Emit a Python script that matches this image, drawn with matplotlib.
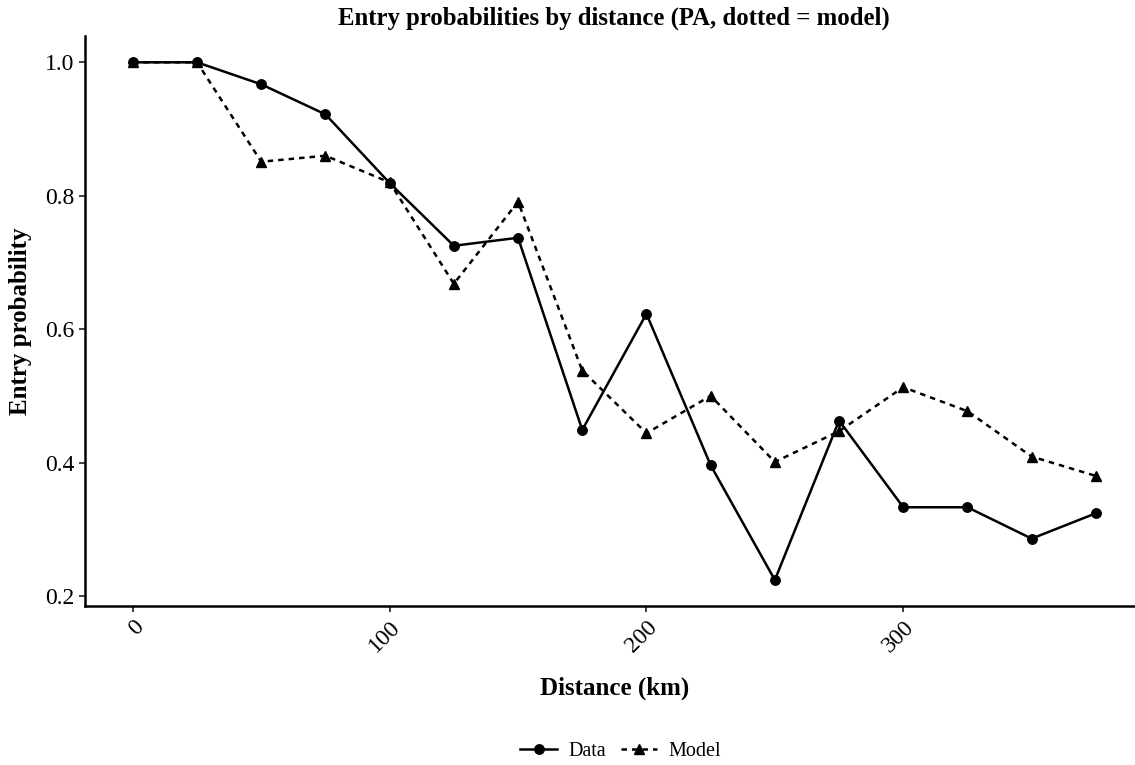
import matplotlib
matplotlib.use("Agg")
import matplotlib.pyplot as plt
from matplotlib.lines import Line2D

distance = [0, 25, 50, 75, 100, 125, 150, 175, 200, 225, 250, 275, 300, 325, 350, 375]
data_prob = [1.0, 1.0, 0.967, 0.922, 0.819, 0.725, 0.737, 0.449, 0.623, 0.396,
             0.224, 0.463, 0.333, 0.333, 0.286, 0.324]
model_prob = [1.0, 1.0, 0.851, 0.860, 0.820, 0.668, 0.791, 0.538, 0.444, 0.500,
              0.401, 0.447, 0.513, 0.477, 0.409, 0.380]
x_ticks = [0, 100, 200, 300]
y_ticks = [0.2, 0.4, 0.6, 0.8, 1.0]

plt.rcParams['font.family'] = ['Liberation Serif', 'DejaVu Serif']

W, H = 1135, 765
fig = plt.figure(figsize=(W / 100, H / 100), dpi=100)
left, right, bottom, top = 84.7, 1144, 606, 36.3
ax = fig.add_axes([left / W, 1 - bottom / H, (right - left) / W, (bottom - top) / H])

ax.plot(distance, model_prob, color='black', lw=1.8, linestyle=(0, (2.2, 2.0)),
        marker='^', markersize=7.5, label='Model')
ax.plot(distance, data_prob, color='black', lw=1.8, linestyle='-',
        marker='o', markersize=6.8, label='Data')

ax.set_xlim(-18.75, 393.75)
ax.set_ylim(0.185, 1.039)
ax.set_xticks(x_ticks)
ax.set_yticks(y_ticks)
ax.set_xticklabels([str(v) for v in x_ticks], rotation=45, ha='right', va='top',
                   rotation_mode='anchor', fontsize=17)
ax.set_yticklabels([f"{v:.1f}" for v in y_ticks], fontsize=17)
ax.tick_params(axis='both', length=4.5, width=1.3, color='#333333', pad=3)

for s in ['top', 'right']:
    ax.spines[s].set_visible(False)
for s in ['left', 'bottom']:
    ax.spines[s].set_linewidth(1.8)

cx = (left + right) / 2 / W
fig.text(cx, 1 - 688 / H, 'Distance (km)', ha='center', va='center',
         fontsize=18, fontweight='bold')
fig.text(20 / W, 1 - 321 / H, 'Entry probability', ha='center', va='center',
         rotation=90, fontsize=18, fontweight='bold')
fig.text(cx, 1 - 18 / H, 'Entry probabilities by distance (PA, dotted = model)',
         ha='center', va='center', fontsize=17.8, fontweight='bold')

handles = [
    Line2D([], [], color='black', lw=1.8, linestyle='-', marker='o', markersize=6.8),
    Line2D([], [], color='black', lw=1.8, linestyle=(0, (2.2, 2.0)), marker='^', markersize=7.5),
]
fig.legend(handles, ['Data', 'Model'], loc='center', bbox_to_anchor=(621 / W, 1 - 751 / H),
           ncol=2, frameon=False, fontsize=14.5, handlelength=1.8, handletextpad=0.6,
           columnspacing=0.7, borderpad=0)

fig.savefig('out.png', dpi=100)
